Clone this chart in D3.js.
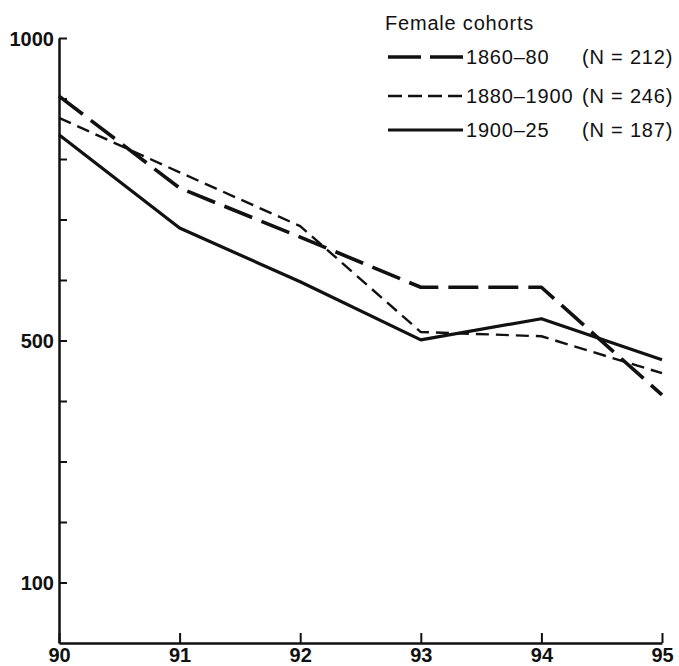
<!DOCTYPE html>
<html>
<head>
<meta charset="utf-8">
<script src="https://cdn.jsdelivr.net/npm/d3@7"></script>
<style>
  body { margin: 0; background: #fff; }
  svg { display: block; }
  text { font-family: "Liberation Sans", Arial, sans-serif; fill: #111; }
</style>
</head>
<body>
<div id="chart"></div>
<script>
// ages on the x axis
var ages = [90, 91, 92, 93, 94, 95];
var yTicks = [100, 200, 300, 400, 500, 600, 700, 800, 900, 1000];
var yLabels = [100, 500, 1000];

var cohorts = ["1860\u201380", "1880\u20131900", "1900\u201325"];
var cohortN = [212, 246, 187];

// survivors per 1000
var v1860 = [904, 752, 671, 588, 588, 410];
var v1880 = [868, 778, 689, 514, 507, 446];
var v1900 = [840, 686, 597, 501, 536, 468];

var W = 679, H = 666;
var svg = d3.select("#chart").append("svg").attr("width", W).attr("height", H);

var x = d3.scaleLinear().domain([90, 95]).range([59, 662]);
var y = d3.scaleLinear().domain([0, 1000]).range([643, 38]);

// line styles for each cohort
var styles = [
  { width: 3.6, dash: "30,10" },
  { width: 2.4, dash: "13,7" },
  { width: 3.2, dash: null }
];
var series = [v1860, v1880, v1900];

var line = d3.line()
  .x(function(d, i) { return x(ages[i]); })
  .y(function(d) { return y(d); });

series.forEach(function(s, i) {
  svg.append("path")
    .attr("d", line(s))
    .attr("fill", "none")
    .attr("stroke", "#111")
    .attr("stroke-width", styles[i].width)
    .attr("stroke-dasharray", styles[i].dash)
    .attr("stroke-linejoin", "round");
});

// y axis, ticks inward
var yAxis = d3.axisLeft(y)
  .tickValues(yTicks)
  .tickSizeInner(-8)
  .tickSizeOuter(0)
  .tickPadding(5)
  .tickFormat(function(d) { return yLabels.indexOf(d) >= 0 ? d : ""; });

var gy = svg.append("g").attr("transform", "translate(59,0)").call(yAxis);

// x axis, ticks inward
var xAxis = d3.axisBottom(x)
  .tickValues(ages)
  .tickSizeInner(-10)
  .tickSizeOuter(0)
  .tickPadding(5)
  .tickFormat(d3.format("d"));

var gx = svg.append("g").attr("transform", "translate(0,643)").call(xAxis);

[gx, gy].forEach(function(g) {
  g.select(".domain").attr("stroke", "#111").attr("stroke-width", 2.5);
  g.selectAll(".tick line").attr("stroke", "#111").attr("stroke-width", 2);
  g.selectAll(".tick text")
    .attr("font-family", "Liberation Sans, Arial, sans-serif")
    .attr("font-size", 20)
    .attr("font-weight", "bold")
    .attr("fill", "#111");
});
gy.selectAll(".tick text").attr("dy", "0.36em");

// legend
var leg = svg.append("g")
  .attr("font-size", 20)
  .attr("letter-spacing", 0.8);
leg.append("text")
  .attr("x", 385).attr("y", 30)
  .text("Female cohorts");

var rowY = [57, 96, 130];
cohorts.forEach(function(c, i) {
  leg.append("line")
    .attr("x1", 388).attr("x2", 463)
    .attr("y1", rowY[i]).attr("y2", rowY[i])
    .attr("stroke", "#111")
    .attr("stroke-width", styles[i].width)
    .attr("stroke-dasharray", i === 0 ? "33,9" : (i === 1 ? "14,6" : null));
  leg.append("text")
    .attr("x", 466).attr("y", rowY[i] + 7)
    .text(c);
  leg.append("text")
    .attr("x", 582).attr("y", rowY[i] + 7)
    .text("(N = " + cohortN[i] + ")");
});
</script>
</body>
</html>
